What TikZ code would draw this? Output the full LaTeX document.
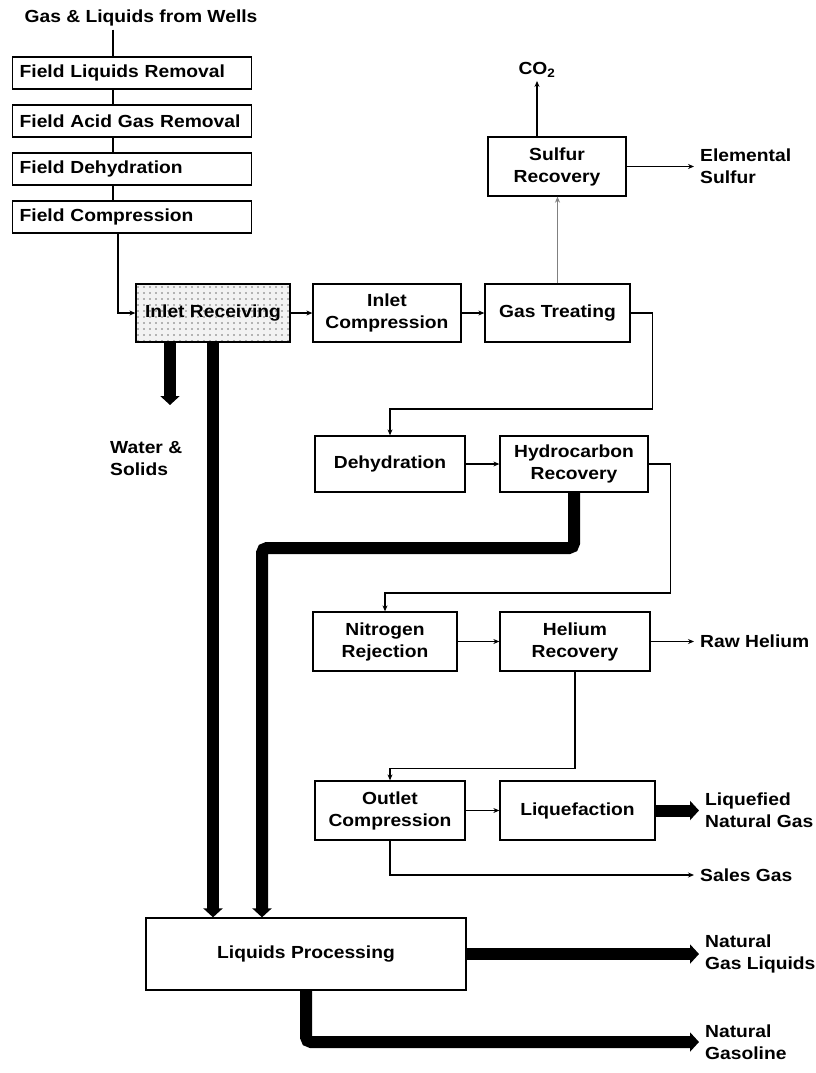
\documentclass[tikz,border=0pt]{standalone}
\usepackage{fontspec}
\setmainfont[FakeStretch=1.1]{Liberation Sans}
\usetikzlibrary{arrows.meta}
\usetikzlibrary{patterns.meta}

\tikzset{
  unit/.style={draw, line width=1.3pt, align=center, minimum height=58pt, inner sep=2pt},
  field/.style={draw, line width=1.3pt, anchor=west, minimum height=32pt, text width=225pt, align=left, inner xsep=7pt},
  pipe/.style={line width=1.3pt},
  feed/.style={line width=1.3pt, -{Stealth[length=6pt,width=5pt]}},
  bulk/.style={line width=12pt, -{Triangle[length=9pt,width=19pt]}},
  product/.style={anchor=west, align=left, inner xsep=6pt, inner ysep=0pt},
}

\begin{document}
\begin{tikzpicture}[x=1pt, y=-1pt, font=\bfseries\fontsize{17.5}{22}\selectfont]
\useasboundingbox (0,0) rectangle (815,1073);

% field units
\node (wells) at (141,18) {Gas \& Liquids from Wells};
\node[field] (f1) at (12,73) {Field Liquids Removal};
\node[field] (f2) at (12,121) {Field Acid Gas Removal};
\node[field] (f3) at (12,169) {Field Dehydration};
\node[field] (f4) at (12,217) {Field Compression};
\coordinate (tap) at (113,0);
\coordinate (drop) at (118,0);
\draw[pipe] (wells.south -| tap) -- (f1.north -| tap);
\draw[pipe] (f1.south -| tap) -- (f2.north -| tap);
\draw[pipe] (f2.south -| tap) -- (f3.north -| tap);
\draw[pipe] (f3.south -| tap) -- (f4.north -| tap);

% plant
\node[unit, minimum width=154pt, preaction={fill=gray!10}, pattern={Dots[distance=6pt,radius=0.8pt]}, pattern color=gray!90!black] (inlet) at (213,313) {Inlet Receiving};
\node[unit, minimum width=148pt] (icomp) at (387,313) {Inlet\\Compression};
\node[unit, minimum width=145pt] (treat) at (557.5,313) {Gas Treating};
\node[unit, minimum width=138pt, minimum height=59pt] (sulfur) at (557,166.5) {Sulfur\\Recovery};
\node[unit, minimum width=150pt, minimum height=56pt] (dehy) at (390,464) {Dehydration};
\node[unit, minimum width=148pt, minimum height=56pt] (hcrec) at (574,464) {Hydrocarbon\\Recovery};
\node[unit, minimum width=144pt, minimum height=59pt] (nrej) at (385,641.5) {Nitrogen\\Rejection};
\node[unit, minimum width=150pt, minimum height=59pt] (herec) at (575,641.5) {Helium\\Recovery};
\node[unit, minimum width=150pt, minimum height=59pt] (ocomp) at (390,810.5) {Outlet\\Compression};
\node[unit, minimum width=155pt, minimum height=59pt] (liq) at (577.5,810.5) {Liquefaction};
\node[unit, minimum width=320pt, minimum height=72pt] (lproc) at (306,954) {Liquids Processing};

% products
\node (co2) at (537,70) {CO\textsubscript{2}};
\node[product] (esul) at (694,166.5) {Elemental\\Sulfur};
\node[product] (helium) at (694,641.5) {Raw Helium};
\node[product] (lng) at (699,810.5) {Liquefied\\Natural Gas};
\node[product] (sales) at (694,875) {Sales Gas};
\node[product] (ngl) at (699,954) {Natural\\Gas Liquids};
\node[product] (gasoline) at (699,1042) {Natural\\Gasoline};
\node[product, inner xsep=0pt] (water) at (110,459) {Water \&\\Solids};

% gas path
\draw[feed] (f4.south -| drop) |- (inlet.west);
\draw[feed] (inlet.east) -- (icomp.west);
\draw[feed] (icomp.east) -- (treat.west);
\draw[feed, gray] (treat.north) -- (treat.north |- sulfur.south);
\draw[feed] (co2.south |- sulfur.north) -- (co2.south);
\draw[feed] (sulfur.east) -- (esul.west);
\draw[feed] (treat.east) -- ++(22,0) -- ++(0,96) -| (dehy.north);
\draw[feed] (dehy.east) -- (hcrec.west);
\draw[feed] (hcrec.east) -- ++(22,0) -- ++(0,129) -| (nrej.north);
\draw[feed] (nrej.east) -- (herec.west);
\draw[feed] (herec.east) -- (helium.west);
\draw[feed] (herec.south) -- ++(0,97) -| (ocomp.north);
\draw[feed] (ocomp.east) -- (liq.west);
\draw[feed] (ocomp.south) |- (sales.west);

% liquids
\coordinate (drain) at (170,405);
\coordinate (hcdrop) at (262,548);
\draw[bulk] (liq.east) -- (lng.west);
\draw[bulk] (inlet.south -| drain) -- (drain);
\draw[bulk] (inlet.south) -- (inlet.south |- lproc.north);
\draw[bulk, rounded corners=5pt] (hcrec.south) |- (hcdrop) -- (hcdrop |- lproc.north);
\draw[bulk] (lproc.east) -- (ngl.west);
\draw[bulk, rounded corners=5pt] (lproc.south) |- (gasoline.west);

\end{tikzpicture}
\end{document}
